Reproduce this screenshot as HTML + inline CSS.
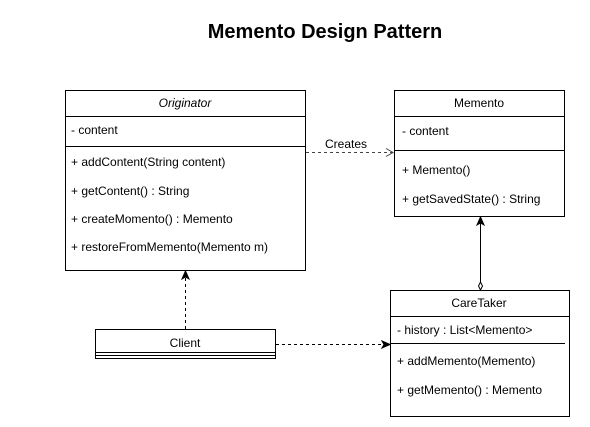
<!DOCTYPE html>
<html><head><style>
html,body{margin:0;padding:0;background:#fff;}
svg{display:block;}
text{font-family:"Liberation Sans",Arial,sans-serif;font-size:12px;fill:#000;}
</style></head><body>
<svg width="590" height="427" viewBox="0 0 590 427" xmlns="http://www.w3.org/2000/svg">
<text x="325" y="38" text-anchor="middle" style="font-size:20px;font-weight:bold">Memento Design Pattern</text>

<!-- Originator -->
<rect x="65.5" y="90.5" width="240" height="180" fill="#fff" stroke="#000"/>
<line x1="65" y1="116.5" x2="305" y2="116.5" stroke="#000"/>
<line x1="65" y1="146.5" x2="305" y2="146.5" stroke="#000"/>
<text x="185" y="107" text-anchor="middle" font-style="italic">Originator</text>
<text x="71" y="134">- content</text>
<text x="71" y="166">+ addContent(String content)</text>
<text x="71" y="195">+ getContent() : String</text>
<text x="71" y="223">+ createMomento() : Memento</text>
<text x="71" y="251">+ restoreFromMemento(Memento m)</text>

<!-- Memento -->
<rect x="394.5" y="90.5" width="170" height="126" fill="#fff" stroke="#000"/>
<line x1="394" y1="116.5" x2="564" y2="116.5" stroke="#000"/>
<line x1="394" y1="150.5" x2="564" y2="150.5" stroke="#000"/>
<text x="479" y="107" text-anchor="middle">Memento</text>
<text x="402" y="135">- content</text>
<text x="402" y="174">+ Memento()</text>
<text x="402" y="203">+ getSavedState() : String</text>

<!-- CareTaker -->
<rect x="390.5" y="290.5" width="179" height="126" fill="#fff" stroke="#000"/>
<line x1="390" y1="316.5" x2="569" y2="316.5" stroke="#000"/>
<line x1="390" y1="343.5" x2="565" y2="343.5" stroke="#000"/>
<text x="479" y="307" text-anchor="middle">CareTaker</text>
<text x="397" y="334">- history : List&lt;Memento&gt;</text>
<text x="397" y="365">+ addMemento(Memento)</text>
<text x="397" y="394">+ getMemento() : Memento</text>

<!-- Client -->
<rect x="95.5" y="329.5" width="180" height="29" fill="#fff" stroke="#000"/>
<line x1="95" y1="352.5" x2="275" y2="352.5" stroke="#000"/>
<line x1="95" y1="355.5" x2="275" y2="355.5" stroke="#000"/>
<text x="185" y="347" text-anchor="middle">Client</text>

<!-- Creates -->
<line x1="306" y1="152.5" x2="392" y2="152.5" stroke="#444" stroke-dasharray="3,3"/>
<polyline points="386,148.5 393,152.5 386,156.5" fill="none" stroke="#444"/>
<text x="346" y="148" text-anchor="middle">Creates</text>

<!-- CareTaker -> Memento -->
<line x1="480.5" y1="223" x2="480.5" y2="282" stroke="#000"/>
<polygon points="480.5,217 477,225 480.5,223 484,225" fill="#000" stroke="#000"/>
<polygon points="480.5,282 482.5,286 480.5,290 478.5,286" fill="#fff" stroke="#000"/>

<!-- Client -> Originator -->
<line x1="185.5" y1="329" x2="185.5" y2="277" stroke="#000" stroke-dasharray="3,3"/>
<polygon points="185.5,271 182,279 185.5,277 189,279" fill="#000" stroke="#000"/>

<!-- Client -> CareTaker -->
<line x1="276" y1="344.5" x2="383" y2="344.5" stroke="#000" stroke-dasharray="3,3"/>
<polygon points="390,344.5 382,341 384,344.5 382,348" fill="#000" stroke="#000"/>
</svg>
</body></html>
